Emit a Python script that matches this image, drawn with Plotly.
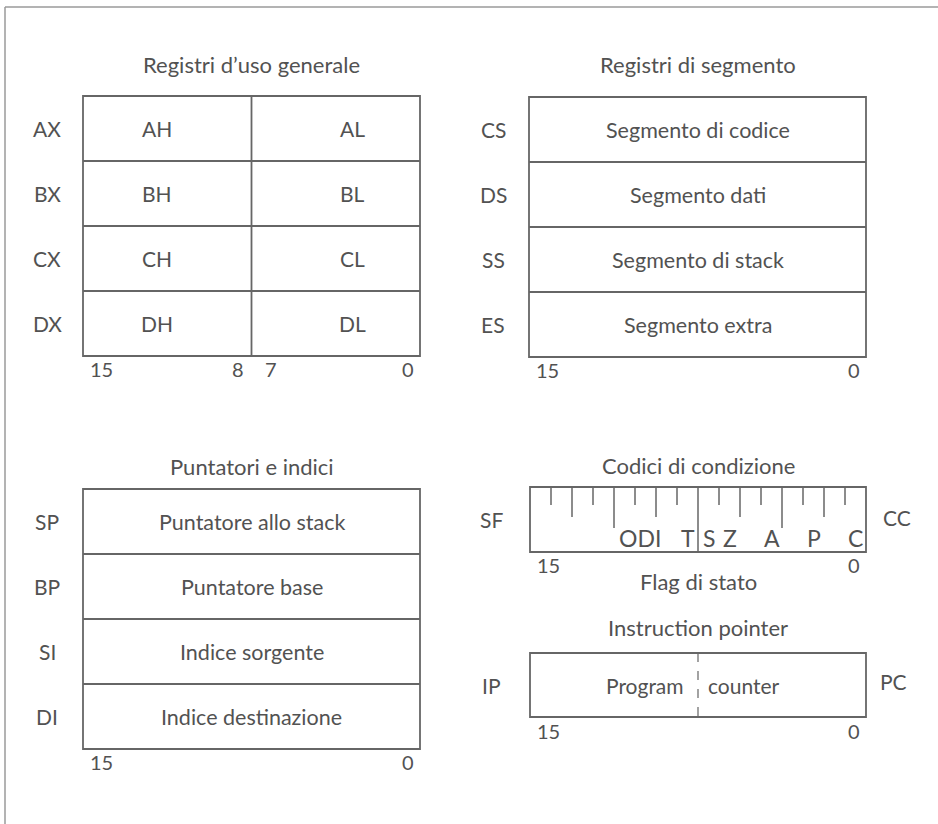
import plotly.graph_objects as go

# ---------------- data (text content of the diagram) ----------------
title_gp = "Registri d’uso generale"
title_seg = "Registri di segmento"
title_ptr = "Puntatori e indici"
title_flags = "Codici di condizione"
title_ip = "Instruction pointer"

gp_regs = ["AX", "BX", "CX", "DX"]
gp_high = ["AH", "BH", "CH", "DH"]
gp_low = ["AL", "BL", "CL", "DL"]
gp_bit_labels = ["15", "8", "7", "0"]

seg_regs = ["CS", "DS", "SS", "ES"]
seg_desc = ["Segmento di codice", "Segmento dati", "Segmento di stack", "Segmento extra"]

ptr_regs = ["SP", "BP", "SI", "DI"]
ptr_desc = ["Puntatore allo stack", "Puntatore base", "Indice sorgente", "Indice destinazione"]

flag_reg = "SF"
flag_alias = "CC"
flag_caption = "Flag di stato"
flag_groups = ["ODI", "T", "S", "Z", "A", "P", "C"]
flag_group_bits = [[11, 10, 9], [8], [7], [6], [4], [2], [0]]
# tick length class for each internal bit boundary (1..15 from the left)
flag_tick_class = ["s", "m", "s", "l", "s", "m", "s", "f", "s", "m", "s", "l", "s", "m", "s"]

ip_reg = "IP"
ip_alias = "PC"
ip_words = ["Program", "counter"]

msb_lsb = ["15", "0"]

# ---------------- layout geometry ----------------
W, H = 938, 824
FONT = "Lato, 'Open Sans', sans-serif"
TXT = "#525252"
LINE = "#666666"
LW = 1.8

panels = {
    "gp": dict(x0=83, x1=420, top=96, rh=65, n=4),
    "seg": dict(x0=529, x1=866, top=97, rh=65, n=4),
    "ptr": dict(x0=83, x1=420, top=489, rh=65, n=4),
    "flags": dict(x0=530, x1=866, top=487, rh=65, n=1),
    "ip": dict(x0=530, x1=866, top=653, rh=64, n=1),
}


def bx(p, pos):
    """x pixel of a position measured in bits from the left edge (0..16)"""
    return p["x0"] + pos * (p["x1"] - p["x0"]) / 16.0


def bit_center(p, bit):
    return bx(p, 15 - bit + 0.5)


def row_y(p, i):
    return p["top"] + (i + 0.5) * p["rh"]


def bottom(p):
    return p["top"] + p["n"] * p["rh"]


shapes = []
ann = []


def line(x0, y0, x1, y1, color=LINE, width=LW, dash=None):
    d = dict(type="line", xref="x", yref="y", x0=x0, y0=y0, x1=x1, y1=y1,
             line=dict(color=color, width=width))
    if dash:
        d["line"]["dash"] = dash
    shapes.append(d)


def text(x, y, s, size=21, xanchor="center"):
    ann.append(dict(x=x, y=y, xref="x", yref="y", text=s, showarrow=False,
                    xanchor=xanchor, yanchor="middle",
                    font=dict(family=FONT, size=size, color=TXT)))


def box(p):
    shapes.append(dict(type="rect", xref="x", yref="y", x0=p["x0"], x1=p["x1"],
                       y0=p["top"], y1=bottom(p), line=dict(color=LINE, width=LW),
                       fillcolor="rgba(0,0,0,0)"))
    for i in range(1, p["n"]):
        yy = p["top"] + i * p["rh"]
        line(p["x0"], yy, p["x1"], yy)


def msb_lsb_labels(p, dy=13):
    yb = bottom(p) + dy
    text(p["x0"] + 5, yb, msb_lsb[0], size=20, xanchor="left")
    text(p["x1"] - 4, yb, msb_lsb[1], size=20, xanchor="right")


# outer frame (left and top edges of the page)
line(5, 7, 5, H, color="#9a9a9a", width=1.5)
line(5, 7, W, 7, color="#9a9a9a", width=1.5)

# ---- general purpose registers ----
p = panels["gp"]
text((p["x0"] + p["x1"]) / 2, 64, title_gp, size=22)
box(p)
line(bx(p, 8), p["top"], bx(p, 8), bottom(p))
for i, (r, h, l) in enumerate(zip(gp_regs, gp_high, gp_low)):
    y = row_y(p, i)
    text(p["x0"] - 36, y, r, size=21)
    text(bx(p, 3.5), y, h, size=21)
    text(bx(p, 12.8), y, l, size=21)
yb = bottom(p) + 13
text(p["x0"] + 5, yb, gp_bit_labels[0], size=20, xanchor="left")
text(bx(p, 8) - 6, yb, gp_bit_labels[1], size=20, xanchor="right")
text(bx(p, 8) + 11, yb, gp_bit_labels[2], size=20, xanchor="left")
text(p["x1"] - 4, yb, gp_bit_labels[3], size=20, xanchor="right")

# ---- segment registers ----
p = panels["seg"]
text((p["x0"] + p["x1"]) / 2, 64, title_seg, size=22)
box(p)
for i, (r, d) in enumerate(zip(seg_regs, seg_desc)):
    y = row_y(p, i)
    text(p["x0"] - 36, y, r, size=21)
    text((p["x0"] + p["x1"]) / 2, y, d, size=21.5)
msb_lsb_labels(p)

# ---- pointer and index registers ----
p = panels["ptr"]
text((p["x0"] + p["x1"]) / 2, 466, title_ptr, size=22)
box(p)
for i, (r, d) in enumerate(zip(ptr_regs, ptr_desc)):
    y = row_y(p, i)
    text(p["x0"] - 36, y, r, size=21)
    text((p["x0"] + p["x1"]) / 2, y, d, size=21.5)
msb_lsb_labels(p)

# ---- flags ----
p = panels["flags"]
text((p["x0"] + p["x1"]) / 2, 465, title_flags, size=22)
box(p)
tick_len = {"s": 18, "m": 30, "l": 41, "f": p["rh"]}
for k, c in enumerate(flag_tick_class, start=1):
    xx = bx(p, k)
    line(xx, p["top"], xx, p["top"] + tick_len[c], width=1.5)
for g, bits in zip(flag_groups, flag_group_bits):
    cx = sum(bit_center(p, b) for b in bits) / len(bits)
    if len(bits) > 1:
        cx -= 6
    text(cx, p["top"] + 51, g, size=23)
text(p["x0"] - 39, row_y(p, 0), flag_reg, size=21)
text(p["x1"] + 31, row_y(p, 0) - 2, flag_alias, size=21)
msb_lsb_labels(p)
text((p["x0"] + p["x1"]) / 2, bottom(p) + 29, flag_caption, size=22)

# ---- instruction pointer ----
p = panels["ip"]
text((p["x0"] + p["x1"]) / 2, 627, title_ip, size=22)
box(p)
line(bx(p, 8), p["top"], bx(p, 8), bottom(p), width=1.2, dash="dash")
y = row_y(p, 0)
text(bx(p, 8) - 12, y, ip_words[0], size=21, xanchor="right")
text(bx(p, 8) + 8, y, ip_words[1], size=21, xanchor="left")
text(p["x0"] - 39, y, ip_reg, size=21)
text(p["x1"] + 27, y - 4, ip_alias, size=21)
msb_lsb_labels(p, dy=14)

fig = go.Figure()
fig.add_trace(go.Scatter(x=[0, W], y=[0, H], mode="markers",
                         marker=dict(opacity=0), hoverinfo="skip", showlegend=False))
fig.update_layout(
    width=W, height=H,
    margin=dict(l=0, r=0, t=0, b=0),
    paper_bgcolor="white", plot_bgcolor="white",
    xaxis=dict(range=[0, W], visible=False, fixedrange=True),
    yaxis=dict(range=[H, 0], visible=False, fixedrange=True),
    shapes=shapes, annotations=ann, showlegend=False,
)
fig.write_html("out.html",
               config={"displayModeBar": False},
               post_script="document.body.style.margin='0px';document.body.style.overflow='hidden';")
